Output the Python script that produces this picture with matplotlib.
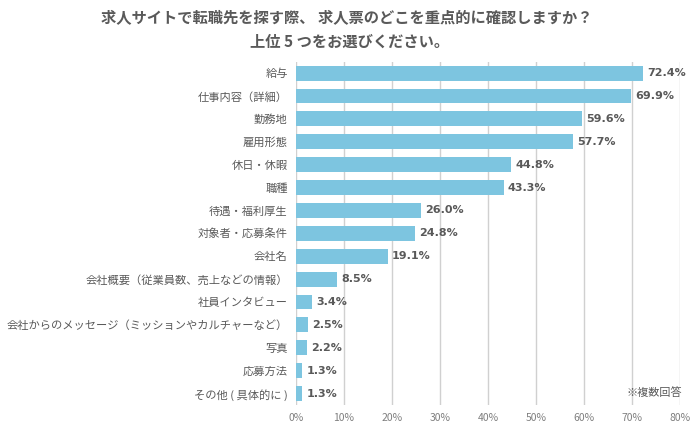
import matplotlib
matplotlib.use("Agg")
import matplotlib.pyplot as plt

plt.rcParams['font.family'] = ['Noto Sans CJK JP', 'DejaVu Sans']

categories = ["給与", "仕事内容（詳細）", "勤務地", "雇用形態", "休日・休暇", "職種",
              "待遇・福利厚生", "対象者・応募条件", "会社名",
              "会社概要（従業員数、売上などの情報）", "社員インタビュー",
              "会社からのメッセージ（ミッションやカルチャーなど）", "写真", "応募方法",
              "その他 ( 具体的に )"]
values = [72.4, 69.9, 59.6, 57.7, 44.8, 43.3, 26.0, 24.8, 19.1, 8.5, 3.4, 2.5, 2.2, 1.3, 1.3]
xticks = [0, 10, 20, 30, 40, 50, 60, 70, 80]

grey = '#595959'
fig = plt.figure(figsize=(7, 4.25), dpi=100)
ax = fig.add_axes([0.423, 0.047, 0.548, 0.808])

y = list(range(len(categories)))
ax.barh(y, values, height=0.65, color='#7DC5E0', zorder=3)
ax.set_ylim(len(categories) - 0.5, -0.5)
ax.set_xlim(0, 80)
ax.set_yticks(y)
ax.set_yticklabels(categories, fontsize=8.1, color=grey)
ax.set_xticks(xticks)
ax.set_xticklabels([f"{t}%" for t in xticks], fontsize=7.5, color='#7f7f7f')
ax.tick_params(axis='both', length=0)
ax.tick_params(axis='y', pad=6)
ax.tick_params(axis='x', pad=6)
for s in ax.spines.values():
    s.set_visible(False)
ax.grid(axis='x', color='#d0d0d0', linewidth=1, zorder=0)

for yi, v in zip(y, values):
    ax.annotate(f"{v:.1f}%", xy=(v, yi), xytext=(3, 0), textcoords='offset points',
                va='center', ha='left', fontsize=8, fontweight='bold', color=grey,
                family=['DejaVu Sans'])

fig.text(0.496, 0.96, "求人サイトで転職先を探す際、 求人票のどこを重点的に確認しますか？",
         ha='center', va='center', fontsize=11, fontweight='bold', color=grey)
fig.text(0.5, 0.901, "上位 5 つをお選びください。",
         ha='center', va='center', fontsize=11, fontweight='bold', color=grey)
fig.text(0.975, 0.077, "※複数回答", ha='right', va='center', fontsize=8, color=grey)

fig.savefig("out.png", dpi=100)
